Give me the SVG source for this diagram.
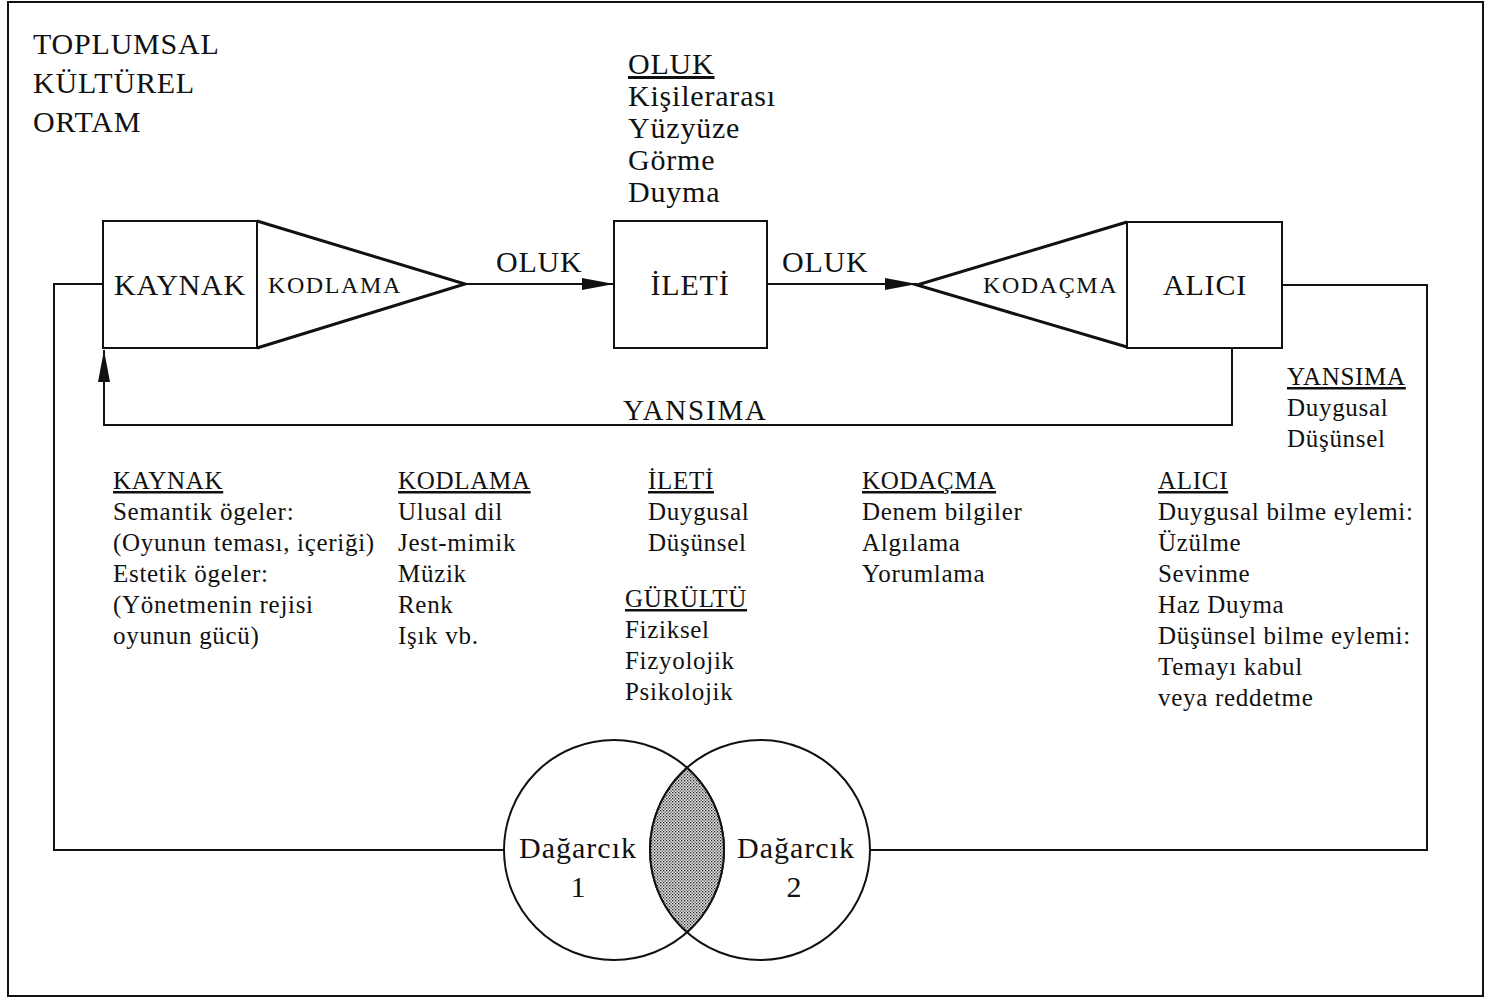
<svg xmlns="http://www.w3.org/2000/svg" width="1486" height="1000" viewBox="0 0 1486 1000">
<style>
text{font-family:"Liberation Serif","Times New Roman",serif;fill:#111}
.big{font-size:30px;letter-spacing:0.8px}
.mid{font-size:24px;letter-spacing:1.6px}
.sm{font-size:25px;letter-spacing:0.7px}
.u{text-decoration:underline}
.ln{fill:none;stroke:#111;stroke-width:2}
.tri{fill:none;stroke:#111;stroke-width:3;stroke-linejoin:miter}
.box{fill:#fff;stroke:#111;stroke-width:2}
.c{text-anchor:middle}
</style>
<defs>
<marker id="ah" viewBox="0 0 32 12" refX="32" refY="6" markerWidth="32" markerHeight="12" markerUnits="userSpaceOnUse" orient="auto">
<path d="M0,0 L32,6 L0,12 Z" fill="#111"/>
</marker>
<pattern id="dots" width="3" height="3" patternUnits="userSpaceOnUse">
<rect width="3" height="3" fill="#e4e4e4"/>
<rect x="0" y="0" width="1.3" height="1.3" fill="#222"/>
<rect x="1.5" y="1.5" width="1.3" height="1.3" fill="#444"/>
</pattern>
</defs>
<rect x="0" y="0" width="1486" height="1000" fill="#fff"/>
<rect x="8" y="2" width="1475" height="994" fill="none" stroke="#111" stroke-width="2"/>

<g id="context">
<text class="big" x="33" y="54">TOPLUMSAL</text>
<text class="big" x="33" y="93">KÜLTÜREL</text>
<text class="big" x="33" y="132">ORTAM</text>
</g>

<g id="oluk-info">
<text class="big u" x="628" y="74">OLUK</text>
<text class="big" x="628" y="106">Kişilerarası</text>
<text class="big" x="628" y="138">Yüzyüze</text>
<text class="big" x="628" y="170">Görme</text>
<text class="big" x="628" y="202">Duyma</text>
</g>

<g id="connectors">
<path class="ln" d="M465,284 H614" marker-end="url(#ah)"/>
<path class="ln" d="M767,284 H917" marker-end="url(#ah)"/>
<path class="ln" d="M1232,348 V425 H104 V350" marker-end="url(#ah)"/>
<path class="ln" d="M103,284 H54 V850 H504"/>
<path class="ln" d="M1282,285 H1427 V850 H870"/>
<text class="big" x="496" y="272">OLUK</text>
<text class="big" x="782" y="272">OLUK</text>
<text x="623" y="420" style="font-size:29px;letter-spacing:1.8px">YANSIMA</text>
</g>

<g id="kaynak">
<rect class="box" x="103" y="221" width="154" height="127"/>
<text class="big c" x="180" y="295">KAYNAK</text>
</g>
<g id="kodlama">
<path class="tri" d="M257,221 L465,284 L257,348"/>
<text class="mid" x="268" y="293">KODLAMA</text>
</g>
<g id="ileti">
<rect class="box" x="614" y="221" width="153" height="127"/>
<text class="big c" x="690" y="295">İLETİ</text>
</g>
<g id="kodacma">
<path class="tri" d="M1127,222 L917,285 L1127,347"/>
<text class="mid" x="983" y="293">KODAÇMA</text>
</g>
<g id="alici">
<rect class="box" x="1127" y="222" width="155" height="126"/>
<text class="big c" x="1205" y="295">ALICI</text>
</g>

<g id="yansima-info">
<text class="sm u" x="1287" y="385">YANSIMA</text>
<text class="sm" x="1287" y="416">Duygusal</text>
<text class="sm" x="1287" y="447">Düşünsel</text>
</g>

<g id="kaynak-info">
<text class="sm u" x="113" y="489">KAYNAK</text>
<text class="sm" x="113" y="520">Semantik ögeler:</text>
<text class="sm" x="113" y="551">(Oyunun teması, içeriği)</text>
<text class="sm" x="113" y="582">Estetik ögeler:</text>
<text class="sm" x="113" y="613">(Yönetmenin rejisi</text>
<text class="sm" x="113" y="644">oyunun gücü)</text>
</g>
<g id="kodlama-info">
<text class="sm u" x="398" y="489">KODLAMA</text>
<text class="sm" x="398" y="520">Ulusal dil</text>
<text class="sm" x="398" y="551">Jest-mimik</text>
<text class="sm" x="398" y="582">Müzik</text>
<text class="sm" x="398" y="613">Renk</text>
<text class="sm" x="398" y="644">Işık vb.</text>
</g>
<g id="ileti-info">
<text class="sm u" x="648" y="489">İLETİ</text>
<text class="sm" x="648" y="520">Duygusal</text>
<text class="sm" x="648" y="551">Düşünsel</text>
</g>
<g id="gurultu-info">
<text class="sm u" x="625" y="607">GÜRÜLTÜ</text>
<text class="sm" x="625" y="638">Fiziksel</text>
<text class="sm" x="625" y="669">Fizyolojik</text>
<text class="sm" x="625" y="700">Psikolojik</text>
</g>
<g id="kodacma-info">
<text class="sm u" x="862" y="489">KODAÇMA</text>
<text class="sm" x="862" y="520">Denem bilgiler</text>
<text class="sm" x="862" y="551">Algılama</text>
<text class="sm" x="862" y="582">Yorumlama</text>
</g>
<g id="alici-info">
<text class="sm u" x="1158" y="489">ALICI</text>
<text class="sm" x="1158" y="520">Duygusal bilme eylemi:</text>
<text class="sm" x="1158" y="551">Üzülme</text>
<text class="sm" x="1158" y="582">Sevinme</text>
<text class="sm" x="1158" y="613">Haz Duyma</text>
<text class="sm" x="1158" y="644">Düşünsel bilme eylemi:</text>
<text class="sm" x="1158" y="675">Temayı kabul</text>
<text class="sm" x="1158" y="706">veya reddetme</text>
</g>

<g id="dagarcik1">
<circle cx="614" cy="850" r="110" fill="#fff" stroke="#111" stroke-width="2"/>
</g>
<g id="dagarcik2">
<circle cx="760" cy="850" r="110" fill="none" stroke="#111" stroke-width="2"/>
</g>
<g id="overlap">
<path d="M687,767.7 A110,110 0 0 1 687,932.3 A110,110 0 0 1 687,767.7 Z" fill="url(#dots)" stroke="#111" stroke-width="2"/>
</g>
<g id="dagarcik-labels">
<text class="c" x="578" y="858" style="font-size:30px;letter-spacing:1px">Dağarcık</text>
<text class="c" x="578" y="897" style="font-size:30px">1</text>
<text class="c" x="796" y="858" style="font-size:30px;letter-spacing:1px">Dağarcık</text>
<text class="c" x="794" y="897" style="font-size:30px">2</text>
</g>
</svg>
